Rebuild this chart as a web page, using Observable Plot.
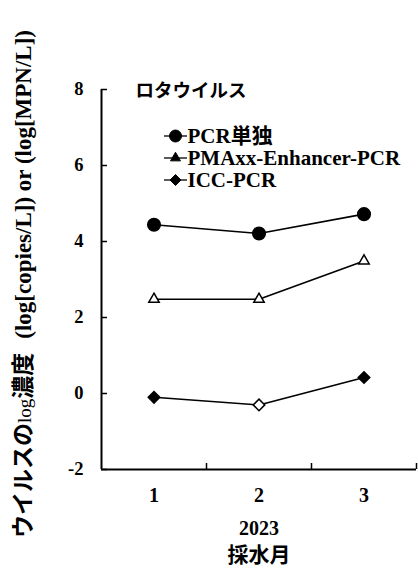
<!DOCTYPE html>
<html><head><meta charset="utf-8">
<script src="https://cdn.jsdelivr.net/npm/d3@7"></script>
<script src="https://cdn.jsdelivr.net/npm/@observablehq/plot@0.6"></script>
<style>
body{margin:0;background:#fff}
#chart{position:relative;width:418px;height:568px;overflow:hidden}
</style>
</head><body><div id="chart"></div>
<script>
// ---- data ----
const months = [1, 2, 3];
const yearLabel = "2023";
const xTitle = "採水月";
const virusName = "ロタウイルス";
const seriesNames = ["PCR単独", "PMAxx-Enhancer-PCR", "ICC-PCR"];
const pcrValues = [4.44, 4.21, 4.72];
const pmaxxValues = [2.48, 2.48, 3.49];
const iccValues = [-0.1, -0.3, 0.42];
const pcrFilled = [true, true, true];
const pmaxxFilled = [false, false, false];
const iccFilled = [true, false, true];
const yTicks = [-2, 0, 2, 4, 6, 8];
const yTitleJp1 = "ウイルスの";
const yTitleLog = "log";
const yTitleJp2 = "濃度";
const yTitleUnits = "(log[copies/L]) or (log[MPN/L])";

// ---- build rows ----
const valueSets = [pcrValues, pmaxxValues, iccValues];
const filledSets = [pcrFilled, pmaxxFilled, iccFilled];
const rows = seriesNames.flatMap((s, i) =>
  months.map((m, j) => ({series: s, month: m, value: valueSets[i][j], filled: filledSets[i][j]})));

const symbols = ["circle", "triangle2", "diamond2"];
const radii = [6.3, 5, 5.2];
const serif = "'Liberation Serif','Times New Roman',serif";
const jp = "'Noto Sans CJK JP','Noto Sans',sans-serif";

const W = 418, H = 568, mL = 101, mR = 2, mT = 89, mB = 99;
const innerW = W - mL - mR, innerH = H - mT - mB;
const boundaries = months.map(m => m + 0.5);

const lineSymbol = {draw(ctx) { ctx.moveTo(-11.5, 0); ctx.lineTo(11.5, 0); }};
const legendRowY = i => 46.5 + 22 * i;

const legendMarks = seriesNames.flatMap((name, i) => [
  Plot.dot([name], {frameAnchor: "top-left", dx: 74, dy: legendRowY(i), symbol: lineSymbol, stroke: "#000", strokeWidth: 1.3, fill: "none"}),
  Plot.dot([name], {frameAnchor: "top-left", dx: 74, dy: legendRowY(i), symbol: symbols[i], r: radii[i] * 0.95, fill: "#000", stroke: "#000", strokeWidth: 1}),
  Plot.text([name], {frameAnchor: "top-left", dx: 86, dy: legendRowY(i), text: d => d, textAnchor: "start", lineAnchor: "middle",
    fontSize: 21, fontWeight: "bold", fontFamily: serif + "," + jp})
]);

const dotMarks = seriesNames.map((name, i) =>
  Plot.dot(rows.filter(d => d.series === name), {
    x: "month", y: "value", symbol: symbols[i], r: radii[i],
    fill: d => d.filled ? "#000" : "#fff", stroke: "#000", strokeWidth: 1.5
  }));

const chart = Plot.plot({
  width: W, height: H,
  marginLeft: mL, marginRight: mR, marginTop: mT, marginBottom: mB,
  style: {fontFamily: serif, fontWeight: "bold", color: "#000", background: "#fff", overflow: "visible"},
  x: {domain: [0.5, 3.5], label: null},
  y: {domain: [-2, 8], label: null},
  marks: [
    Plot.axisY(yTicks, {tickSize: 0, tickPadding: 18, fontSize: 18.5, fontWeight: "bold", fontFamily: serif, label: null, tickFormat: d => String(d)}),
    Plot.tickY(yTicks, {y: d => d, insetRight: innerW - 6, stroke: "#000", strokeWidth: 1.5}),
    Plot.axisX(months, {tickSize: 0, tickPadding: 18, fontSize: 20, fontWeight: "bold", fontFamily: serif, label: null, tickFormat: d => String(d)}),
    Plot.tickX(boundaries, {x: d => d, insetTop: innerH - 6, stroke: "#000", strokeWidth: 1.5}),
    Plot.ruleX([0.5], {stroke: "#000", strokeWidth: 2}),
    Plot.ruleY([-2], {stroke: "#000", strokeWidth: 2}),
    Plot.line(rows, {x: "month", y: "value", z: "series", stroke: "#000", strokeWidth: 1.6}),
    ...dotMarks,
    Plot.text([virusName], {frameAnchor: "top-left", dx: 34, dy: 2, text: d => d, textAnchor: "start", lineAnchor: "middle",
      fontSize: 18.5, fontWeight: "bold", fontFamily: jp}),
    ...legendMarks,
    Plot.text([yearLabel], {frameAnchor: "bottom", dy: 59, text: d => d, lineAnchor: "middle", fontSize: 20, fontWeight: "bold", fontFamily: serif}),
    Plot.text([xTitle], {frameAnchor: "bottom", dy: 86, text: d => d, lineAnchor: "middle", fontSize: 21, fontWeight: "bold", fontFamily: jp})
  ]
});

// y-axis title with mixed fonts
const svg = d3.select(chart);
const t = svg.append("text")
  .attr("transform", "translate(31,538) rotate(-90)")
  .attr("text-anchor", "start")
  .attr("font-weight", "bold")
  .attr("fill", "#000");
t.append("tspan").attr("font-family", jp).attr("font-size", 23).text(yTitleJp1);
t.append("tspan").attr("font-family", serif).attr("font-size", 19).attr("font-weight", "normal").text(yTitleLog);
t.append("tspan").attr("font-family", jp).attr("font-size", 23).text(yTitleJp2);
t.append("tspan").attr("font-family", serif).attr("font-size", 23).attr("dx", 14).text(yTitleUnits);

document.getElementById("chart").appendChild(chart);
</script>
</body></html>
